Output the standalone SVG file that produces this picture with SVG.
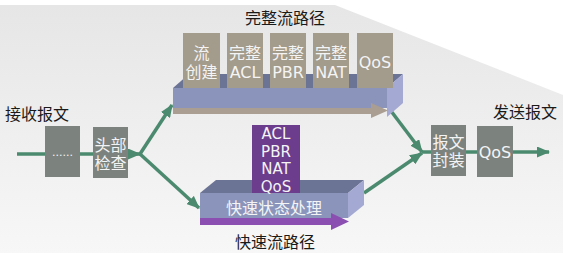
<svg xmlns="http://www.w3.org/2000/svg" width="563" height="253" viewBox="0 0 563 253">
<defs>
<linearGradient id="bg" x1="0" y1="0" x2="0" y2="1">
<stop offset="0" stop-color="#e6e6e6"/>
<stop offset="1" stop-color="#f7f7f7"/>
</linearGradient>
<marker id="ah" markerUnits="userSpaceOnUse" markerWidth="13" markerHeight="11" refX="12" refY="5.5" orient="auto">
<path d="M0,0 L13,5.5 L0,11 z" fill="#4b8a6e"/>
</marker>
<style>
.t{font-family:"DejaVu Sans","Noto Sans CJK SC",sans-serif;font-size:16px;text-anchor:middle;dominant-baseline:central}
.s{font-size:15px}
.dark{fill:#1a1a1a}
.w{fill:#f4f4f4}
.gray{fill:#7c837f}
.tan{fill:#a39b8b}
.front{fill:#8b94bb}
.top{fill:#6c7495}
.side{fill:#a3a9d2}
.ln{fill:none;stroke:#4b8a6e;stroke-width:3.5}
</style>
</defs>
<rect width="563" height="253" fill="#ffffff"/>
<polygon points="0,5 335,5 563,95 563,253 0,253" fill="url(#bg)"/>

<text class="t dark" x="285" y="18">完整流路径</text>
<text class="t dark" x="37" y="114">接收报文</text>
<text class="t dark" x="525" y="112">发送报文</text>
<text class="t dark" x="275" y="242">快速流路径</text>

<g id="connectors">
<line class="ln" x1="17" y1="154" x2="45" y2="154"/>
<line class="ln" x1="80" y1="154" x2="93" y2="154"/>
<line class="ln" x1="128" y1="154" x2="140" y2="154" marker-end="url(#ah)"/>
<line class="ln" x1="140" y1="154" x2="172" y2="105" marker-end="url(#ah)"/>
<line class="ln" x1="140" y1="154" x2="199" y2="208" marker-end="url(#ah)"/>
<line class="ln" x1="391" y1="111" x2="422" y2="152" marker-end="url(#ah)"/>
<line class="ln" x1="364" y1="193" x2="422" y2="153" marker-end="url(#ah)"/>
<line class="ln" x1="422" y1="152" x2="431" y2="152"/>
<line class="ln" x1="466" y1="152" x2="477" y2="152"/>
<line class="ln" x1="513" y1="152" x2="549" y2="152" marker-end="url(#ah)"/>
</g>

<g id="full-path-bar">
<polygon class="top" points="173,88 189,74 403,74 387,88"/>
<polygon class="side" points="387,88 403,74 403,103 387,117"/>
<rect class="front" x="173" y="88" width="214" height="20"/>
<polygon points="173,108 371,108 371,103 388,110.5 371,118 371,114 173,114" fill="#aa9e92"/>
</g>
<g id="box-flow-create">
<rect class="tan" x="183" y="33" width="37" height="55"/>
<text class="t w" x="201.5" y="53">流</text>
<text class="t w" x="201.5" y="72">创建</text>
</g>
<g id="box-full-acl">
<rect class="tan" x="227" y="33" width="36" height="55"/>
<text class="t w" x="245" y="53">完整</text>
<text class="t w" x="245" y="72">ACL</text>
</g>
<g id="box-full-pbr">
<rect class="tan" x="270" y="33" width="36" height="55"/>
<text class="t w" x="288" y="53">完整</text>
<text class="t w" x="288" y="72">PBR</text>
</g>
<g id="box-full-nat">
<rect class="tan" x="313" y="33" width="36" height="55"/>
<text class="t w" x="331" y="53">完整</text>
<text class="t w" x="331" y="72">NAT</text>
</g>
<g id="box-full-qos">
<rect class="tan" x="357" y="33" width="36" height="55"/>
<text class="t w" x="375" y="62">QoS</text>
</g>

<g id="fast-bar">
<polygon class="top" points="200,193 216,180 364,180 348,193"/>
<polygon class="side" points="348,193 364,180 364,205 348,218"/>
<rect class="front" x="200" y="193" width="148" height="25"/>
<polygon points="200,218 331,218 331,213 349,221.5 331,230 331,225 200,225" fill="#8b4fb1"/>
<text class="t w" x="274" y="208">快速状态处理</text>
</g>
<g id="fast-features">
<rect x="252" y="125" width="48" height="68" fill="#6b3d8c"/>
<text class="t s w" x="276" y="134">ACL</text>
<text class="t s w" x="276" y="151.5">PBR</text>
<text class="t s w" x="276" y="169">NAT</text>
<text class="t s w" x="276" y="186.5">QoS</text>
</g>

<g id="box-dots">
<rect class="gray" x="45" y="126" width="35" height="51"/>
<text class="t w" x="62.5" y="152" style="font-size:11px">......</text>
</g>
<g id="box-header-check">
<rect class="gray" x="93" y="127" width="35" height="51"/>
<text class="t w" x="110.5" y="145">头部</text>
<text class="t w" x="110.5" y="163">检查</text>
</g>
<g id="box-encap">
<rect class="gray" x="431" y="125" width="35" height="51"/>
<text class="t w" x="448.5" y="142">报文</text>
<text class="t w" x="448.5" y="160">封装</text>
</g>
<g id="box-qos-out">
<rect class="gray" x="477" y="126" width="36" height="51"/>
<text class="t w" x="495" y="152">QoS</text>
</g>
</svg>
